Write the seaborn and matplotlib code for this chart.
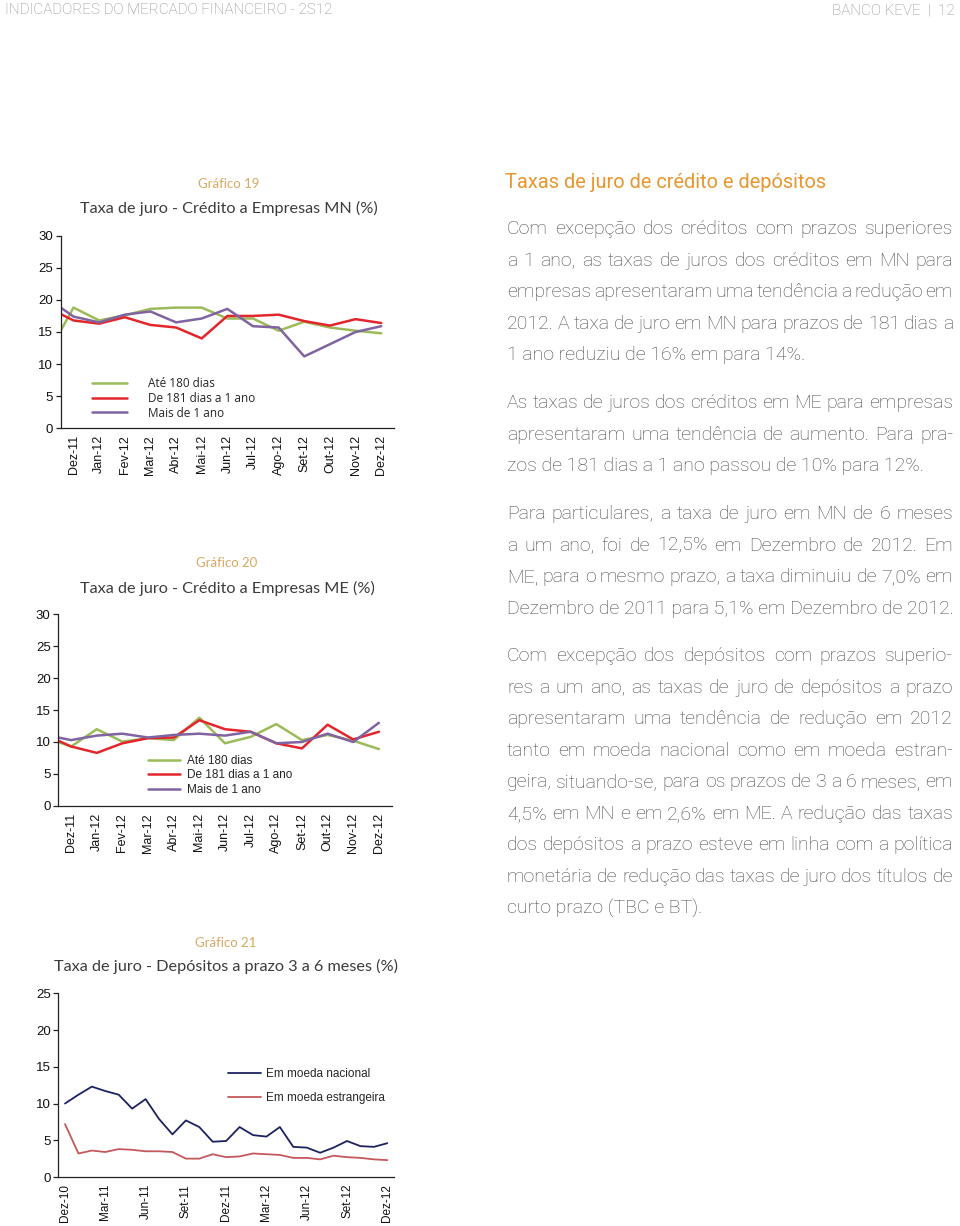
import numpy as np
import pandas as pd
import matplotlib
matplotlib.use("Agg")
import matplotlib.pyplot as plt
import seaborn as sns

# meses dos graficos 19 e 20 (o primeiro valor de cada serie e Nov-11, fora do eixo)
meses = ["Dez-11", "Jan-12", "Fev-12", "Mar-12", "Abr-12", "Mai-12", "Jun-12",
         "Jul-12", "Ago-12", "Set-12", "Out-12", "Nov-12", "Dez-12"]
series_cred = ["Até 180 dias", "De 181 dias a 1 ano", "Mais de 1 ano"]

# Grafico 19 - credito a empresas MN (%)
mn_ate180 = [11.6, 18.8, 16.8, 17.6, 18.6, 18.8, 18.8, 17.1, 17.1, 15.2, 16.6, 15.7, 15.2, 14.8]
mn_181_1a = [18.8, 16.8, 16.3, 17.3, 16.1, 15.7, 14.0, 17.5, 17.5, 17.7, 16.7, 16.0, 17.0, 16.4]
mn_mais1a = [20.2, 17.4, 16.5, 17.7, 18.2, 16.5, 17.1, 18.6, 15.9, 15.7, 11.2, 13.1, 15.0, 15.9]

# Grafico 20 - credito a empresas ME (%)
me_ate180 = [10.7, 9.3, 12.0, 10.05, 10.6, 10.3, 13.8, 9.8, 10.8, 12.8, 10.3, 11.1, 10.2, 8.9]
me_181_1a = [11.1, 9.3, 8.3, 9.8, 10.6, 10.7, 13.4, 12.0, 11.6, 9.8, 9.0, 12.7, 10.4, 11.6]
me_mais1a = [11.1, 10.3, 11.0, 11.3, 10.7, 11.1, 11.3, 11.0, 11.6, 9.8, 10.0, 11.3, 10.0, 13.0]

# Grafico 21 - depositos a prazo 3 a 6 meses (%)
meses_dep = ["Dez-10", "Jan-11", "Fev-11", "Mar-11", "Abr-11", "Mai-11", "Jun-11",
             "Jul-11", "Ago-11", "Set-11", "Out-11", "Nov-11", "Dez-11", "Jan-12",
             "Fev-12", "Mar-12", "Abr-12", "Mai-12", "Jun-12", "Jul-12", "Ago-12",
             "Set-12", "Out-12", "Nov-12", "Dez-12"]
series_dep = ["Em moeda nacional", "Em moeda estrangeira"]
dep_nacional = [10.0, 11.2, 12.3, 11.7, 11.2, 9.3, 10.6, 7.9, 5.8, 7.7, 6.8, 4.8, 4.9,
                6.8, 5.7, 5.5, 6.8, 4.1, 4.0, 3.3, 4.0, 4.9, 4.2, 4.1, 4.6]
dep_estrangeira = [7.2, 3.2, 3.6, 3.4, 3.8, 3.7, 3.5, 3.5, 3.4, 2.5, 2.5, 3.1, 2.7,
                   2.8, 3.2, 3.1, 3.0, 2.6, 2.6, 2.4, 2.9, 2.7, 2.6, 2.4, 2.3]

W, H = 960, 1226
sns.set_theme(style="white")
plt.rcParams["font.family"] = ["Liberation Sans", "DejaVu Sans"]

fig = plt.figure(figsize=(W / 100, H / 100), dpi=100)
fig.patch.set_facecolor("white")

cores_cred = ["#9BBB59", "#E3262B", "#8064A2"]
cores_dep = ["#1C2260", "#C4585C"]
laranja = "#D9A862"
cinza_titulo = "#3C3C3C"
cinza_texto = "#484848"


def axrect(l, r, top, bottom):
    return [l / W, 1 - bottom / H, (r - l) / W, (bottom - top) / H]


def long_df(series, valores, x):
    partes = [pd.DataFrame({"x": x, "valor": v, "serie": s}) for s, v in zip(series, valores)]
    return pd.concat(partes, ignore_index=True)


def estilo_eixo(ax, n, ymax, labels, label_pos, fs=9):
    ax.set_xlim(-0.5, n - 0.5)
    ax.set_ylim(0, ymax)
    for s in ["top", "right"]:
        ax.spines[s].set_visible(False)
    for s in ["left", "bottom"]:
        ax.spines[s].set_color("#222222")
        ax.spines[s].set_linewidth(0.9)
    ax.set_yticks(np.arange(0, ymax + 1, 5))
    ax.set_xticks(label_pos)
    ax.set_xticklabels(labels, rotation=90, fontsize=fs, color="#111111")
    ax.set_xticks(np.arange(-0.5, n, 1), minor=True)
    ax.tick_params(axis="x", which="major", length=0, pad=5)
    ax.tick_params(axis="x", which="minor", length=4, width=0.9, color="#222222", direction="out")
    ax.tick_params(axis="y", length=3.5, width=0.9, color="#222222", direction="out",
                   labelsize=9.5, labelcolor="#111111", left=True, pad=2)
    ax.set_xlabel("")
    ax.set_ylabel("")
    ax.set_facecolor("none")
    ax.grid(False)


def titulo(num, texto, cx, y_num, y_tit):
    fig.text(cx / W, 1 - y_num / H, num, ha="center", va="center", color=laranja,
             fontsize=9.5, family=["Lato", "DejaVu Sans"])
    fig.text(cx / W, 1 - y_tit / H, texto, ha="center", va="center", color=cinza_titulo,
             fontsize=11.7, family=["Lato", "DejaVu Sans"])


x_cred = np.arange(-1, len(meses))

# ---- Grafico 19
ax1 = fig.add_axes(axrect(60.7, 394, 235.7, 428.3))
df1 = long_df(series_cred, [mn_ate180, mn_181_1a, mn_mais1a], x_cred)
sns.lineplot(data=df1, x="x", y="valor", hue="serie", palette=cores_cred, linewidth=1.8, ax=ax1)
estilo_eixo(ax1, len(meses), 30, meses, np.arange(len(meses)))
h, l = ax1.get_legend_handles_labels()
ax1.legend(h, l, loc="upper left", bbox_to_anchor=((92 - 60.7) / 333.3, (428.3 - 377) / 192.6),
           frameon=False, handlelength=3.0, handletextpad=1.75,
           labelspacing=0.15, borderpad=0, borderaxespad=0,
           prop={"family": ["Open Sans", "DejaVu Sans"], "size": 8.5})
titulo("Gráfico 19", "Taxa de juro - Crédito a Empresas MN (%)", 229, 184, 208)

# ---- Grafico 20
ax2 = fig.add_axes(axrect(58.3, 391.7, 614, 806))
df2 = long_df(series_cred, [me_ate180, me_181_1a, me_mais1a], x_cred)
sns.lineplot(data=df2, x="x", y="valor", hue="serie", palette=cores_cred, linewidth=1.8, ax=ax2)
estilo_eixo(ax2, len(meses), 30, meses, np.arange(len(meses)))
h, l = ax2.get_legend_handles_labels()
ax2.legend(h, l, loc="upper left", bbox_to_anchor=((148 - 58.3) / 333.4, (806 - 755) / 192),
           frameon=False, handlelength=2.7, handletextpad=0.6,
           labelspacing=0.2, borderpad=0, borderaxespad=0,
           prop={"family": ["Liberation Sans", "DejaVu Sans"], "size": 8.5})
titulo("Gráfico 20", "Taxa de juro - Crédito a Empresas ME (%)", 227, 563, 588)

# ---- Grafico 21
ax3 = fig.add_axes(axrect(58.3, 394, 993.3, 1177))
x_dep = np.arange(len(meses_dep))
df3 = long_df(series_dep, [dep_nacional, dep_estrangeira], x_dep)
sns.lineplot(data=df3, x="x", y="valor", hue="serie", palette=cores_dep, linewidth=1.3, ax=ax3)
estilo_eixo(ax3, len(meses_dep), 25, meses_dep[::3], x_dep[::3], fs=8.5)
h, l = ax3.get_legend_handles_labels()
ax3.legend(h, l, loc="upper left", bbox_to_anchor=((228 - 58.3) / 335.7, (1177 - 1068) / 183.7),
           frameon=False, handlelength=2.8, handletextpad=0.4,
           labelspacing=1.0, borderpad=0, borderaxespad=0,
           prop={"family": ["Liberation Sans", "DejaVu Sans"], "size": 8.5})
titulo("Gráfico 21", "Taxa de juro - Depósitos a prazo 3 a 6 meses (%)", 226, 943, 966)

# ---- cabecalho
fig.text(5 / W, 1 - 10.5 / H, "INDICADORES DO MERCADO FINANCEIRO - 2S12", ha="left", va="center",
         color="#8C8C8C", fontsize=10.9, family=["Roboto", "DejaVu Sans"], fontweight="light")
fig.text(955 / W, 1 - 10.5 / H, "BANCO KEVE  |  12", ha="right", va="center",
         color="#8C8C8C", fontsize=10.9, family=["Roboto", "DejaVu Sans"], fontweight="light")

# ---- texto da direita
fig.text(505 / W, 1 - 182 / H, "Taxas de juro de crédito e depósitos", ha="left", va="center",
         color="#E8962E", fontsize=14.4, family=["Roboto", "DejaVu Sans"])

paragrafos = [
    (229, ["Com excepção dos créditos com prazos superiores",
           "a 1 ano, as taxas de juros dos créditos em MN para",
           "empresas apresentaram uma tendência a redução em",
           "2012. A taxa de juro em MN para prazos de 181 dias a",
           "1 ano reduziu de 16% em para 14%."]),
    (403, ["As taxas de juros dos créditos em ME para empresas",
           "apresentaram uma tendência de aumento. Para pra-",
           "zos de 181 dias a 1 ano passou de 10% para 12%."]),
    (514, ["Para particulares, a taxa de juro em MN de 6 meses",
           "a um ano, foi de 12,5% em Dezembro de 2012. Em",
           "ME, para o mesmo prazo, a taxa diminuiu de 7,0% em",
           "Dezembro de 2011 para 5,1% em Dezembro de 2012."]),
    (656, ["Com excepção dos depósitos com prazos superio-",
           "res a um ano, as taxas de juro de depósitos a prazo",
           "apresentaram uma tendência de redução em 2012",
           "tanto em moeda nacional como em moeda estran-",
           "geira, situando-se, para os prazos de 3 a 6 meses, em",
           "4,5% em MN e em 2,6% em ME. A redução das taxas",
           "dos depósitos a prazo esteve em linha com a política",
           "monetária de redução das taxas de juro dos títulos de",
           "curto prazo (TBC e BT)."]),
]

renderer = fig.canvas.get_renderer()
x0, x1, passo = 507, 953, 31.55
kw = dict(va="center", ha="left", color=cinza_texto, fontsize=14,
          family=["Roboto", "DejaVu Sans"], fontweight="light")

for y0, linhas in paragrafos:
    for i, linha in enumerate(linhas):
        y = 1 - (y0 + i * passo) / H
        palavras = linha.split()
        if i == len(linhas) - 1:
            fig.text(x0 / W, y, linha, **kw)
            continue
        textos = [fig.text(0, y, p, **kw) for p in palavras]
        larguras = [t.get_window_extent(renderer).width for t in textos]
        gap = (x1 - x0 - sum(larguras)) / (len(palavras) - 1)
        x = x0
        for t, w in zip(textos, larguras):
            t.set_x(x / W)
            x += w + gap

fig.savefig("out.png", dpi=100, facecolor="white")
